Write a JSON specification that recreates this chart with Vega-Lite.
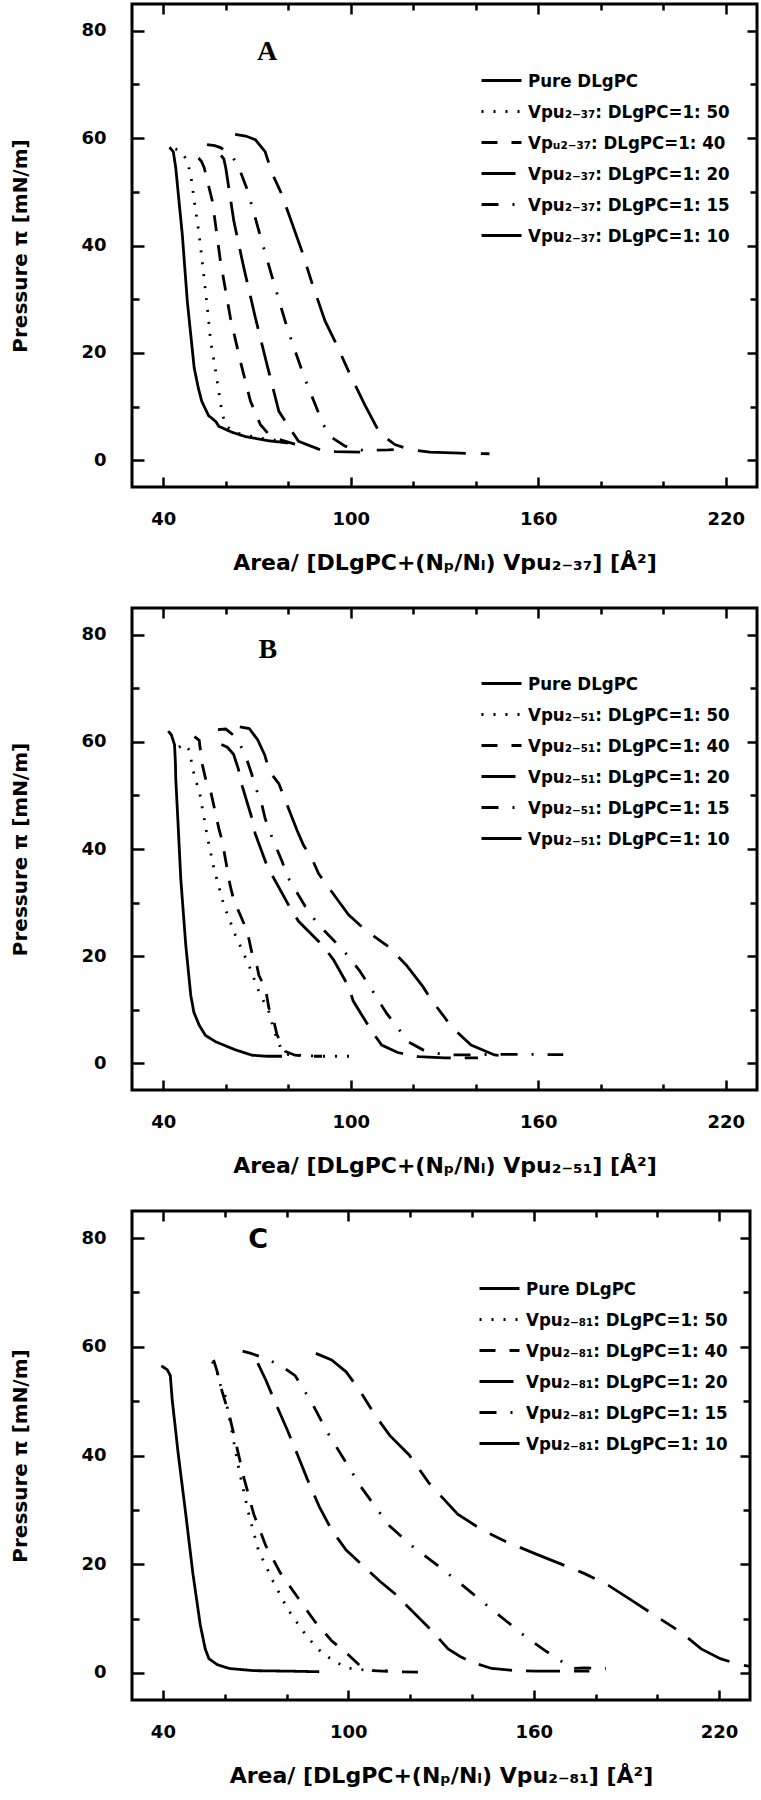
{
"$schema": "https://vega.github.io/schema/vega-lite/v6.json",
"padding": {"left": 8, "top": 1, "right": 0, "bottom": 0},
"background": "white",
"spacing": 121,
"bounds": "flush",
"resolve": {"scale": {"strokeDash": "independent"}, "legend": {"strokeDash": "independent"}},
"config": {
  "view": {"stroke": "black", "strokeWidth": 3},
  "axis": {"domain": false, "grid": false, "tickColor": "black", "tickWidth": 2.5, "tickCap": "butt", "labelColor": "black", "labelFont": "DejaVu Sans", "labelFontSize": 18, "labelFontWeight": "bold", "labelFlush": false, "labelOverlap": false, "labelBound": false, "titleColor": "black", "titleFontWeight": "bold"},
  "axisX": {"titleFont": "DejaVu Sans", "titleFontSize": 22},
  "axisY": {"titleFont": "DejaVu Sans", "titleFontSize": 20},
  "legend": {"orient": "none", "symbolType": "stroke", "symbolSize": 1600, "symbolStrokeWidth": 2.8, "symbolStrokeColor": "black", "labelFont": "DejaVu Sans Condensed", "labelFontSize": 18.5, "labelFontWeight": "bold", "labelColor": "black", "labelLimit": 0, "labelOffset": 5, "rowPadding": -9.5, "padding": 0}
},
"datasets": {
  "A": [
    {"s":"pure","x":42.0,"y":58.3},{"s":"pure","x":43.2,"y":57.5},{"s":"pure","x":44.0,"y":54.5},{"s":"pure","x":45.0,"y":48.5},{"s":"pure","x":46.1,"y":42.0},{"s":"pure","x":47.7,"y":29.6},{"s":"pure","x":49.9,"y":17.2},{"s":"pure","x":51.2,"y":13.5},{"s":"pure","x":52.3,"y":11.0},{"s":"pure","x":54.5,"y":8.3},{"s":"pure","x":56.8,"y":7.2},{"s":"pure","x":57.8,"y":6.3},{"s":"pure","x":62.0,"y":5.2},{"s":"pure","x":66.3,"y":4.4},{"s":"pure","x":73.8,"y":3.6},{"s":"pure","x":80.1,"y":3.2},
    {"s":"50","x":43.9,"y":58.0},{"s":"50","x":45.5,"y":57.6},{"s":"50","x":47.5,"y":56.0},{"s":"50","x":48.8,"y":53.2},{"s":"50","x":50.0,"y":48.0},{"s":"50","x":51.5,"y":42.0},{"s":"50","x":53.9,"y":29.6},{"s":"50","x":55.2,"y":22.0},{"s":"50","x":56.6,"y":17.2},{"s":"50","x":58.9,"y":8.5},{"s":"50","x":60.3,"y":6.2},{"s":"50","x":64.0,"y":5.0},{"s":"50","x":70.0,"y":4.2},{"s":"50","x":76.0,"y":3.7},
    {"s":"40","x":51.3,"y":56.3},{"s":"40","x":52.2,"y":55.7},{"s":"40","x":53.1,"y":54.5},{"s":"40","x":55.7,"y":48.3},{"s":"40","x":58.3,"y":37.1},{"s":"40","x":61.5,"y":26.5},{"s":"40","x":64.7,"y":18.4},{"s":"40","x":67.9,"y":11.0},{"s":"40","x":71.1,"y":6.6},{"s":"40","x":73.5,"y":5.0},{"s":"40","x":76.4,"y":4.0},{"s":"40","x":82.1,"y":3.0},{"s":"40","x":86.0,"y":2.6},
    {"s":"20","x":58.5,"y":56.8},{"s":"20","x":59.4,"y":56.1},{"s":"20","x":60.0,"y":54.5},{"s":"20","x":62.6,"y":44.5},{"s":"20","x":65.8,"y":35.8},{"s":"20","x":69.5,"y":26.5},{"s":"20","x":73.2,"y":17.8},{"s":"20","x":77.0,"y":9.1},{"s":"20","x":80.1,"y":6.3},{"s":"20","x":83.3,"y":3.5},{"s":"20","x":89.7,"y":2.05},{"s":"20","x":95.0,"y":1.6},{"s":"20","x":103.0,"y":1.5},
    {"s":"15","x":54.0,"y":58.8},{"s":"15","x":56.5,"y":58.6},{"s":"15","x":58.5,"y":58.2},{"s":"15","x":60.5,"y":57.3},{"s":"15","x":62.5,"y":56.2},{"s":"15","x":64.2,"y":54.5},{"s":"15","x":66.9,"y":50.4},{"s":"15","x":71.1,"y":41.7},{"s":"15","x":75.4,"y":33.0},{"s":"15","x":79.9,"y":24.2},{"s":"15","x":85.1,"y":15.5},{"s":"15","x":91.0,"y":6.9},{"s":"15","x":93.4,"y":4.4},{"s":"15","x":98.2,"y":2.6},{"s":"15","x":104.0,"y":1.8},{"s":"15","x":112.0,"y":1.9},{"s":"15","x":117.0,"y":2.1},
    {"s":"10","x":63.0,"y":60.7},{"s":"10","x":66.4,"y":60.4},{"s":"10","x":69.5,"y":59.7},{"s":"10","x":72.6,"y":57.5},{"s":"10","x":74.8,"y":53.5},{"s":"10","x":77.5,"y":50.1},{"s":"10","x":79.1,"y":47.6},{"s":"10","x":84.4,"y":38.9},{"s":"10","x":87.6,"y":33.0},{"s":"10","x":91.8,"y":25.9},{"s":"10","x":95.5,"y":21.5},{"s":"10","x":99.8,"y":15.9},{"s":"10","x":104.5,"y":10.3},{"s":"10","x":109.3,"y":5.0},{"s":"10","x":114.1,"y":2.9},{"s":"10","x":119.4,"y":1.9},{"s":"10","x":125.3,"y":1.5},{"s":"10","x":135.0,"y":1.3},{"s":"10","x":144.4,"y":1.2}
  ],
  "B": [
    {"s":"pure","x":41.6,"y":62.0},{"s":"pure","x":42.6,"y":61.3},{"s":"pure","x":43.6,"y":59.5},{"s":"pure","x":43.9,"y":56.0},{"s":"pure","x":44.0,"y":53.2},{"s":"pure","x":44.8,"y":44.0},{"s":"pure","x":45.6,"y":34.5},{"s":"pure","x":47.2,"y":22.1},{"s":"pure","x":48.8,"y":12.7},{"s":"pure","x":49.8,"y":9.5},{"s":"pure","x":51.5,"y":7.1},{"s":"pure","x":53.5,"y":5.2},{"s":"pure","x":56.8,"y":4.0},{"s":"pure","x":63.1,"y":2.5},{"s":"pure","x":68.4,"y":1.5},{"s":"pure","x":73.0,"y":1.3},{"s":"pure","x":78.0,"y":1.3},
    {"s":"50","x":45.0,"y":59.0},{"s":"50","x":46.8,"y":59.6},{"s":"50","x":48.3,"y":58.5},{"s":"50","x":49.3,"y":55.5},{"s":"50","x":50.2,"y":53.0},{"s":"50","x":51.5,"y":51.0},{"s":"50","x":54.1,"y":42.3},{"s":"50","x":56.2,"y":36.4},{"s":"50","x":59.4,"y":29.5},{"s":"50","x":63.1,"y":23.9},{"s":"50","x":67.4,"y":18.3},{"s":"50","x":70.6,"y":13.4},{"s":"50","x":73.8,"y":9.6},{"s":"50","x":75.5,"y":6.0},{"s":"50","x":77.5,"y":3.0},{"s":"50","x":80.0,"y":1.6},{"s":"50","x":90.0,"y":1.3},{"s":"50","x":100.3,"y":1.3},
    {"s":"40","x":50.0,"y":61.0},{"s":"40","x":51.5,"y":60.3},{"s":"40","x":52.4,"y":56.0},{"s":"40","x":53.8,"y":52.5},{"s":"40","x":55.2,"y":50.7},{"s":"40","x":56.6,"y":47.0},{"s":"40","x":57.8,"y":43.8},{"s":"40","x":58.9,"y":41.4},{"s":"40","x":61.4,"y":33.2},{"s":"40","x":62.7,"y":30.2},{"s":"40","x":64.7,"y":27.6},{"s":"40","x":66.9,"y":24.6},{"s":"40","x":68.4,"y":20.5},{"s":"40","x":70.0,"y":18.1},{"s":"40","x":70.6,"y":16.4},{"s":"40","x":72.7,"y":14.0},{"s":"40","x":73.8,"y":10.3},{"s":"40","x":75.4,"y":7.8},{"s":"40","x":76.4,"y":5.3},{"s":"40","x":79.1,"y":2.2},{"s":"40","x":82.2,"y":1.5},{"s":"40","x":86.0,"y":1.3},{"s":"40","x":90.8,"y":1.3},
    {"s":"20","x":58.6,"y":59.5},{"s":"20","x":60.5,"y":59.0},{"s":"20","x":62.5,"y":57.7},{"s":"20","x":64.0,"y":55.0},{"s":"20","x":65.3,"y":51.7},{"s":"20","x":68.4,"y":45.7},{"s":"20","x":69.4,"y":42.9},{"s":"20","x":73.2,"y":36.9},{"s":"20","x":75.4,"y":34.5},{"s":"20","x":80.7,"y":28.9},{"s":"20","x":83.3,"y":26.5},{"s":"20","x":91.3,"y":21.8},{"s":"20","x":94.5,"y":19.3},{"s":"20","x":99.3,"y":14.3},{"s":"20","x":100.8,"y":11.6},{"s":"20","x":106.7,"y":6.0},{"s":"20","x":109.9,"y":3.4},{"s":"20","x":115.0,"y":2.0},{"s":"20","x":121.6,"y":1.25},{"s":"20","x":130.0,"y":1.0},{"s":"20","x":140.7,"y":1.0},
    {"s":"15","x":57.5,"y":62.3},{"s":"15","x":60.0,"y":62.4},{"s":"15","x":63.0,"y":61.0},{"s":"15","x":66.0,"y":58.0},{"s":"15","x":68.3,"y":54.0},{"s":"15","x":69.5,"y":51.6},{"s":"15","x":71.6,"y":48.2},{"s":"15","x":72.6,"y":45.7},{"s":"15","x":74.3,"y":42.9},{"s":"15","x":78.0,"y":37.7},{"s":"15","x":80.1,"y":34.5},{"s":"15","x":85.4,"y":29.3},{"s":"15","x":88.6,"y":26.7},{"s":"15","x":91.8,"y":24.6},{"s":"15","x":96.1,"y":22.0},{"s":"15","x":99.8,"y":19.6},{"s":"15","x":102.9,"y":17.2},{"s":"15","x":106.0,"y":14.4},{"s":"15","x":108.8,"y":11.8},{"s":"15","x":111.5,"y":9.3},{"s":"15","x":115.2,"y":6.5},{"s":"15","x":118.4,"y":4.0},{"s":"15","x":123.1,"y":2.5},{"s":"15","x":130.0,"y":1.55},{"s":"15","x":136.4,"y":1.55},{"s":"15","x":145.0,"y":1.65},{"s":"15","x":155.4,"y":1.65},{"s":"15","x":168.0,"y":1.6},
    {"s":"10","x":64.5,"y":62.8},{"s":"10","x":67.5,"y":62.5},{"s":"10","x":70.2,"y":60.4},{"s":"10","x":72.5,"y":57.5},{"s":"10","x":74.0,"y":54.5},{"s":"10","x":77.0,"y":52.2},{"s":"10","x":82.8,"y":43.5},{"s":"10","x":84.9,"y":40.7},{"s":"10","x":87.6,"y":38.2},{"s":"10","x":89.7,"y":35.4},{"s":"10","x":99.3,"y":27.7},{"s":"10","x":102.9,"y":25.8},{"s":"10","x":107.7,"y":23.6},{"s":"10","x":112.0,"y":21.8},{"s":"10","x":117.8,"y":18.3},{"s":"10","x":123.1,"y":14.3},{"s":"10","x":125.8,"y":11.8},{"s":"10","x":129.5,"y":9.0},{"s":"10","x":132.2,"y":6.8},{"s":"10","x":138.5,"y":3.4},{"s":"10","x":146.0,"y":1.55},{"s":"10","x":150.0,"y":1.3}
  ],
  "C": [
    {"s":"pure","x":39.5,"y":56.5},{"s":"pure","x":41.4,"y":55.8},{"s":"pure","x":42.4,"y":54.7},{"s":"pure","x":43.0,"y":50.3},{"s":"pure","x":45.0,"y":40.1},{"s":"pure","x":47.4,"y":29.2},{"s":"pure","x":49.7,"y":18.3},{"s":"pure","x":52.1,"y":8.8},{"s":"pure","x":53.7,"y":4.4},{"s":"pure","x":54.9,"y":2.6},{"s":"pure","x":57.6,"y":1.5},{"s":"pure","x":61.5,"y":0.8},{"s":"pure","x":69.4,"y":0.4},{"s":"pure","x":82.0,"y":0.3},{"s":"pure","x":90.6,"y":0.2},
    {"s":"50","x":56.0,"y":57.3},{"s":"50","x":57.5,"y":55.5},{"s":"50","x":58.6,"y":53.0},{"s":"50","x":60.0,"y":51.4},{"s":"50","x":62.3,"y":44.5},{"s":"50","x":64.7,"y":37.2},{"s":"50","x":67.8,"y":29.2},{"s":"50","x":70.9,"y":22.6},{"s":"50","x":75.7,"y":16.8},{"s":"50","x":80.4,"y":11.7},{"s":"50","x":86.7,"y":6.6},{"s":"50","x":91.4,"y":3.7},{"s":"50","x":96.1,"y":1.9},{"s":"50","x":100.8,"y":0.8},{"s":"50","x":107.1,"y":0.4},{"s":"50","x":114.2,"y":0.4},
    {"s":"40","x":56.4,"y":57.6},{"s":"40","x":57.6,"y":55.4},{"s":"40","x":59.2,"y":51.7},{"s":"40","x":61.5,"y":47.4},{"s":"40","x":63.9,"y":41.6},{"s":"40","x":66.3,"y":35.7},{"s":"40","x":69.4,"y":29.2},{"s":"40","x":73.3,"y":23.4},{"s":"40","x":78.1,"y":18.3},{"s":"40","x":83.6,"y":13.9},{"s":"40","x":89.1,"y":9.5},{"s":"40","x":94.6,"y":5.9},{"s":"40","x":99.3,"y":3.7},{"s":"40","x":104.0,"y":1.2},{"s":"40","x":108.0,"y":0.4},{"s":"40","x":115.0,"y":0.2},{"s":"40","x":125.0,"y":0.1},
    {"s":"20","x":70.7,"y":57.0},{"s":"20","x":73.3,"y":53.9},{"s":"20","x":76.5,"y":49.6},{"s":"20","x":80.4,"y":44.5},{"s":"20","x":83.6,"y":40.1},{"s":"20","x":86.7,"y":35.7},{"s":"20","x":90.6,"y":30.6},{"s":"20","x":94.6,"y":26.3},{"s":"20","x":99.3,"y":22.6},{"s":"20","x":104.8,"y":19.7},{"s":"20","x":110.3,"y":16.8},{"s":"20","x":115.0,"y":14.6},{"s":"20","x":121.3,"y":11.0},{"s":"20","x":127.6,"y":7.4},{"s":"20","x":132.3,"y":4.4},{"s":"20","x":136.2,"y":3.0},{"s":"20","x":140.2,"y":1.9},{"s":"20","x":146.4,"y":0.8},{"s":"20","x":154.3,"y":0.4},{"s":"20","x":160.6,"y":0.3},{"s":"20","x":173.2,"y":0.3},{"s":"20","x":178.0,"y":0.3},
    {"s":"15","x":65.8,"y":59.2},{"s":"15","x":68.5,"y":58.8},{"s":"15","x":71.0,"y":58.3},{"s":"15","x":75.7,"y":57.2},{"s":"15","x":79.5,"y":56.0},{"s":"15","x":82.8,"y":54.7},{"s":"15","x":88.3,"y":49.6},{"s":"15","x":93.0,"y":44.5},{"s":"15","x":98.5,"y":39.4},{"s":"15","x":104.0,"y":34.3},{"s":"15","x":108.7,"y":30.6},{"s":"15","x":113.4,"y":27.0},{"s":"15","x":120.5,"y":23.4},{"s":"15","x":129.1,"y":19.7},{"s":"15","x":137.0,"y":16.1},{"s":"15","x":144.9,"y":12.4},{"s":"15","x":151.2,"y":9.5},{"s":"15","x":157.5,"y":6.6},{"s":"15","x":163.7,"y":4.1},{"s":"15","x":168.5,"y":2.3},{"s":"15","x":172.4,"y":0.8},{"s":"15","x":176.3,"y":0.9},{"s":"15","x":183.4,"y":0.8},
    {"s":"10","x":89.5,"y":58.8},{"s":"10","x":94.6,"y":57.6},{"s":"10","x":99.3,"y":55.4},{"s":"10","x":104.0,"y":51.7},{"s":"10","x":108.7,"y":47.4},{"s":"10","x":113.4,"y":43.7},{"s":"10","x":119.7,"y":40.1},{"s":"10","x":126.0,"y":35.0},{"s":"10","x":135.4,"y":29.2},{"s":"10","x":143.3,"y":26.3},{"s":"10","x":151.2,"y":24.1},{"s":"10","x":160.6,"y":21.9},{"s":"10","x":168.5,"y":20.1},{"s":"10","x":176.3,"y":18.3},{"s":"10","x":184.2,"y":16.1},{"s":"10","x":192.1,"y":13.2},{"s":"10","x":199.9,"y":10.3},{"s":"10","x":207.8,"y":7.4},{"s":"10","x":214.2,"y":4.4},{"s":"10","x":220.4,"y":2.6},{"s":"10","x":226.7,"y":1.5},{"s":"10","x":232.0,"y":1.0}
  ]
},
"vconcat": [
  {
    "width": 625, "height": 483,
    "data": {"name": "A"},
    "layer": [
      {
        "mark": {"type": "line", "clip": true, "color": "black", "strokeWidth": 2.8},
        "encoding": {
          "x": {"field": "x", "type": "quantitative", "scale": {"domain": [30, 230], "nice": false, "zero": false},
                "axis": {"orient": "bottom", "values": [40,60,80,100,120,140,160,180,200,220], "tickSize": {"condition": {"test": "(datum.value - 40) % 60 === 0", "value": -10}, "value": -6}, "labelExpr": "(datum.value - 40) % 60 === 0 ? datum.label : ''", "labelPadding": 33, "title": "Area/ [DLgPC+(Nₚ/Nₗ) Vpu₂₋₃₇]  [Å²]", "titleY": 82, "titleBaseline": "alphabetic"}},
          "y": {"field": "y", "type": "quantitative", "scale": {"domain": [-5, 85], "nice": false, "zero": false},
                "axis": {"orient": "left", "values": [0,10,20,30,40,50,60,70,80], "tickSize": {"condition": {"test": "datum.value % 20 === 0", "value": -12}, "value": -7}, "labelExpr": "datum.value % 20 === 0 ? datum.label : ''", "labelPadding": 38, "title": "Pressure π [mN/m]", "titleX": -106, "titleBaseline": "alphabetic"}},
          "strokeDash": {"field": "s", "type": "nominal", "scale": {"domain": ["pure","50","40","20","15","10"], "range": [[1,0],[2,10],[16,14],[34,14],[17,14,2,14],[48,15,18,15]]},
                "legend": {"title": null, "legendX": 348, "legendY": 55,
                           "labelExpr": "{'pure':'Pure DLgPC','50':'Vpu₂₋₃₇: DLgPC=1: 50','40':'Vpᵤ₂₋₃₇: DLgPC=1: 40','20':'Vpu₂₋₃₇: DLgPC=1: 20','15':'Vpu₂₋₃₇: DLgPC=1: 15','10':'Vpu₂₋₃₇: DLgPC=1: 10'}[datum.value]"}}
        }
      },
      {
        "mark": {"type": "point", "opacity": 0},
        "encoding": {
          "x": {"field": "x", "type": "quantitative", "scale": {"domain": [30, 230], "nice": false, "zero": false}, "axis": {"orient": "top", "values": [40,60,80,100,120,140,160,180,200,220], "tickSize": {"condition": {"test": "(datum.value - 40) % 60 === 0", "value": -10}, "value": -6}, "labels": false, "title": null}},
          "y": {"field": "y", "type": "quantitative", "scale": {"domain": [-5, 85], "nice": false, "zero": false}, "axis": {"orient": "right", "values": [0,10,20,30,40,50,60,70,80], "tickSize": {"condition": {"test": "datum.value % 20 === 0", "value": -10}, "value": -7}, "labels": false, "title": null}}
        }
      },
      {
        "data": {"values": [{"t": "A"}]},
        "mark": {"type": "text", "font": "Liberation Serif", "fontWeight": "bold", "fontSize": 28, "color": "black"},
        "encoding": {"x": {"datum": 73.2, "type": "quantitative", "axis": null}, "y": {"datum": 76.1, "type": "quantitative", "axis": null}, "text": {"field": "t"}}
      }
    ],
    "resolve": {"axis": {"x": "independent", "y": "independent"}}
  },
  {
    "width": 625, "height": 482,
    "data": {"name": "B"},
    "layer": [
      {
        "mark": {"type": "line", "clip": true, "color": "black", "strokeWidth": 2.8},
        "encoding": {
          "x": {"field": "x", "type": "quantitative", "scale": {"domain": [30, 230], "nice": false, "zero": false},
                "axis": {"orient": "bottom", "values": [40,60,80,100,120,140,160,180,200,220], "tickSize": {"condition": {"test": "(datum.value - 40) % 60 === 0", "value": -10}, "value": -6}, "labelExpr": "(datum.value - 40) % 60 === 0 ? datum.label : ''", "labelPadding": 33, "title": "Area/ [DLgPC+(Nₚ/Nₗ) Vpu₂₋₅₁]  [Å²]", "titleY": 82, "titleBaseline": "alphabetic"}},
          "y": {"field": "y", "type": "quantitative", "scale": {"domain": [-5, 85], "nice": false, "zero": false},
                "axis": {"orient": "left", "values": [0,10,20,30,40,50,60,70,80], "tickSize": {"condition": {"test": "datum.value % 20 === 0", "value": -12}, "value": -7}, "labelExpr": "datum.value % 20 === 0 ? datum.label : ''", "labelPadding": 38, "title": "Pressure π [mN/m]", "titleX": -106, "titleBaseline": "alphabetic"}},
          "strokeDash": {"field": "s", "type": "nominal", "scale": {"domain": ["pure","50","40","20","15","10"], "range": [[1,0],[2,10],[16,14],[34,14],[17,14,2,14],[48,15,18,15]]},
                "legend": {"title": null, "legendX": 348, "legendY": 54,
                           "labelExpr": "{'pure':'Pure DLgPC','50':'Vpu₂₋₅₁: DLgPC=1: 50','40':'Vpu₂₋₅₁: DLgPC=1: 40','20':'Vpu₂₋₅₁: DLgPC=1: 20','15':'Vpu₂₋₅₁: DLgPC=1: 15','10':'Vpu₂₋₅₁: DLgPC=1: 10'}[datum.value]"}}
        }
      },
      {
        "mark": {"type": "point", "opacity": 0},
        "encoding": {
          "x": {"field": "x", "type": "quantitative", "scale": {"domain": [30, 230], "nice": false, "zero": false}, "axis": {"orient": "top", "values": [40,60,80,100,120,140,160,180,200,220], "tickSize": {"condition": {"test": "(datum.value - 40) % 60 === 0", "value": -10}, "value": -6}, "labels": false, "title": null}},
          "y": {"field": "y", "type": "quantitative", "scale": {"domain": [-5, 85], "nice": false, "zero": false}, "axis": {"orient": "right", "values": [0,10,20,30,40,50,60,70,80], "tickSize": {"condition": {"test": "datum.value % 20 === 0", "value": -10}, "value": -7}, "labels": false, "title": null}}
        }
      },
      {
        "data": {"values": [{"t": "B"}]},
        "mark": {"type": "text", "font": "Liberation Serif", "fontWeight": "bold", "fontSize": 28, "color": "black"},
        "encoding": {"x": {"datum": 73.5, "type": "quantitative", "axis": null}, "y": {"datum": 77.2, "type": "quantitative", "axis": null}, "text": {"field": "t"}}
      }
    ],
    "resolve": {"axis": {"x": "independent", "y": "independent"}}
  },
  {
    "width": 618, "height": 489,
    "data": {"name": "C"},
    "layer": [
      {
        "mark": {"type": "line", "clip": true, "color": "black", "strokeWidth": 2.8},
        "encoding": {
          "x": {"field": "x", "type": "quantitative", "scale": {"domain": [30, 230], "nice": false, "zero": false},
                "axis": {"orient": "bottom", "values": [40,60,80,100,120,140,160,180,200,220], "tickSize": {"condition": {"test": "(datum.value - 40) % 60 === 0", "value": -10}, "value": -6}, "labelExpr": "(datum.value - 40) % 60 === 0 ? datum.label : ''", "labelPadding": 33, "title": "Area/ [DLgPC+(Nₚ/Nₗ) Vpu₂₋₈₁]  [Å²]", "titleY": 82, "titleBaseline": "alphabetic"}},
          "y": {"field": "y", "type": "quantitative", "scale": {"domain": [-5, 85], "nice": false, "zero": false},
                "axis": {"orient": "left", "values": [0,10,20,30,40,50,60,70,80], "tickSize": {"condition": {"test": "datum.value % 20 === 0", "value": -12}, "value": -7}, "labelExpr": "datum.value % 20 === 0 ? datum.label : ''", "labelPadding": 38, "title": "Pressure π [mN/m]", "titleX": -106, "titleBaseline": "alphabetic"}},
          "strokeDash": {"field": "s", "type": "nominal", "scale": {"domain": ["pure","50","40","20","15","10"], "range": [[1,0],[2,10],[16,14],[34,14],[17,14,2,14],[48,15,18,15]]},
                "legend": {"title": null, "legendX": 346, "legendY": 56,
                           "labelExpr": "{'pure':'Pure DLgPC','50':'Vpu₂₋₈₁: DLgPC=1: 50','40':'Vpu₂₋₈₁: DLgPC=1: 40','20':'Vpu₂₋₈₁: DLgPC=1: 20','15':'Vpu₂₋₈₁: DLgPC=1: 15','10':'Vpu₂₋₈₁: DLgPC=1: 10'}[datum.value]"}}
        }
      },
      {
        "mark": {"type": "point", "opacity": 0},
        "encoding": {
          "x": {"field": "x", "type": "quantitative", "scale": {"domain": [30, 230], "nice": false, "zero": false}, "axis": {"orient": "top", "values": [40,60,80,100,120,140,160,180,200,220], "tickSize": {"condition": {"test": "(datum.value - 40) % 60 === 0", "value": -10}, "value": -6}, "labels": false, "title": null}},
          "y": {"field": "y", "type": "quantitative", "scale": {"domain": [-5, 85], "nice": false, "zero": false}, "axis": {"orient": "right", "values": [0,10,20,30,40,50,60,70,80], "tickSize": {"condition": {"test": "datum.value % 20 === 0", "value": -10}, "value": -7}, "labels": false, "title": null}}
        }
      },
      {
        "data": {"values": [{"t": "C"}]},
        "mark": {"type": "text", "font": "DejaVu Sans", "fontWeight": "bold", "fontSize": 27, "color": "black"},
        "encoding": {"x": {"datum": 70.8, "type": "quantitative", "axis": null}, "y": {"datum": 79.6, "type": "quantitative", "axis": null}, "text": {"field": "t"}}
      }
    ],
    "resolve": {"axis": {"x": "independent", "y": "independent"}}
  }
]
}
